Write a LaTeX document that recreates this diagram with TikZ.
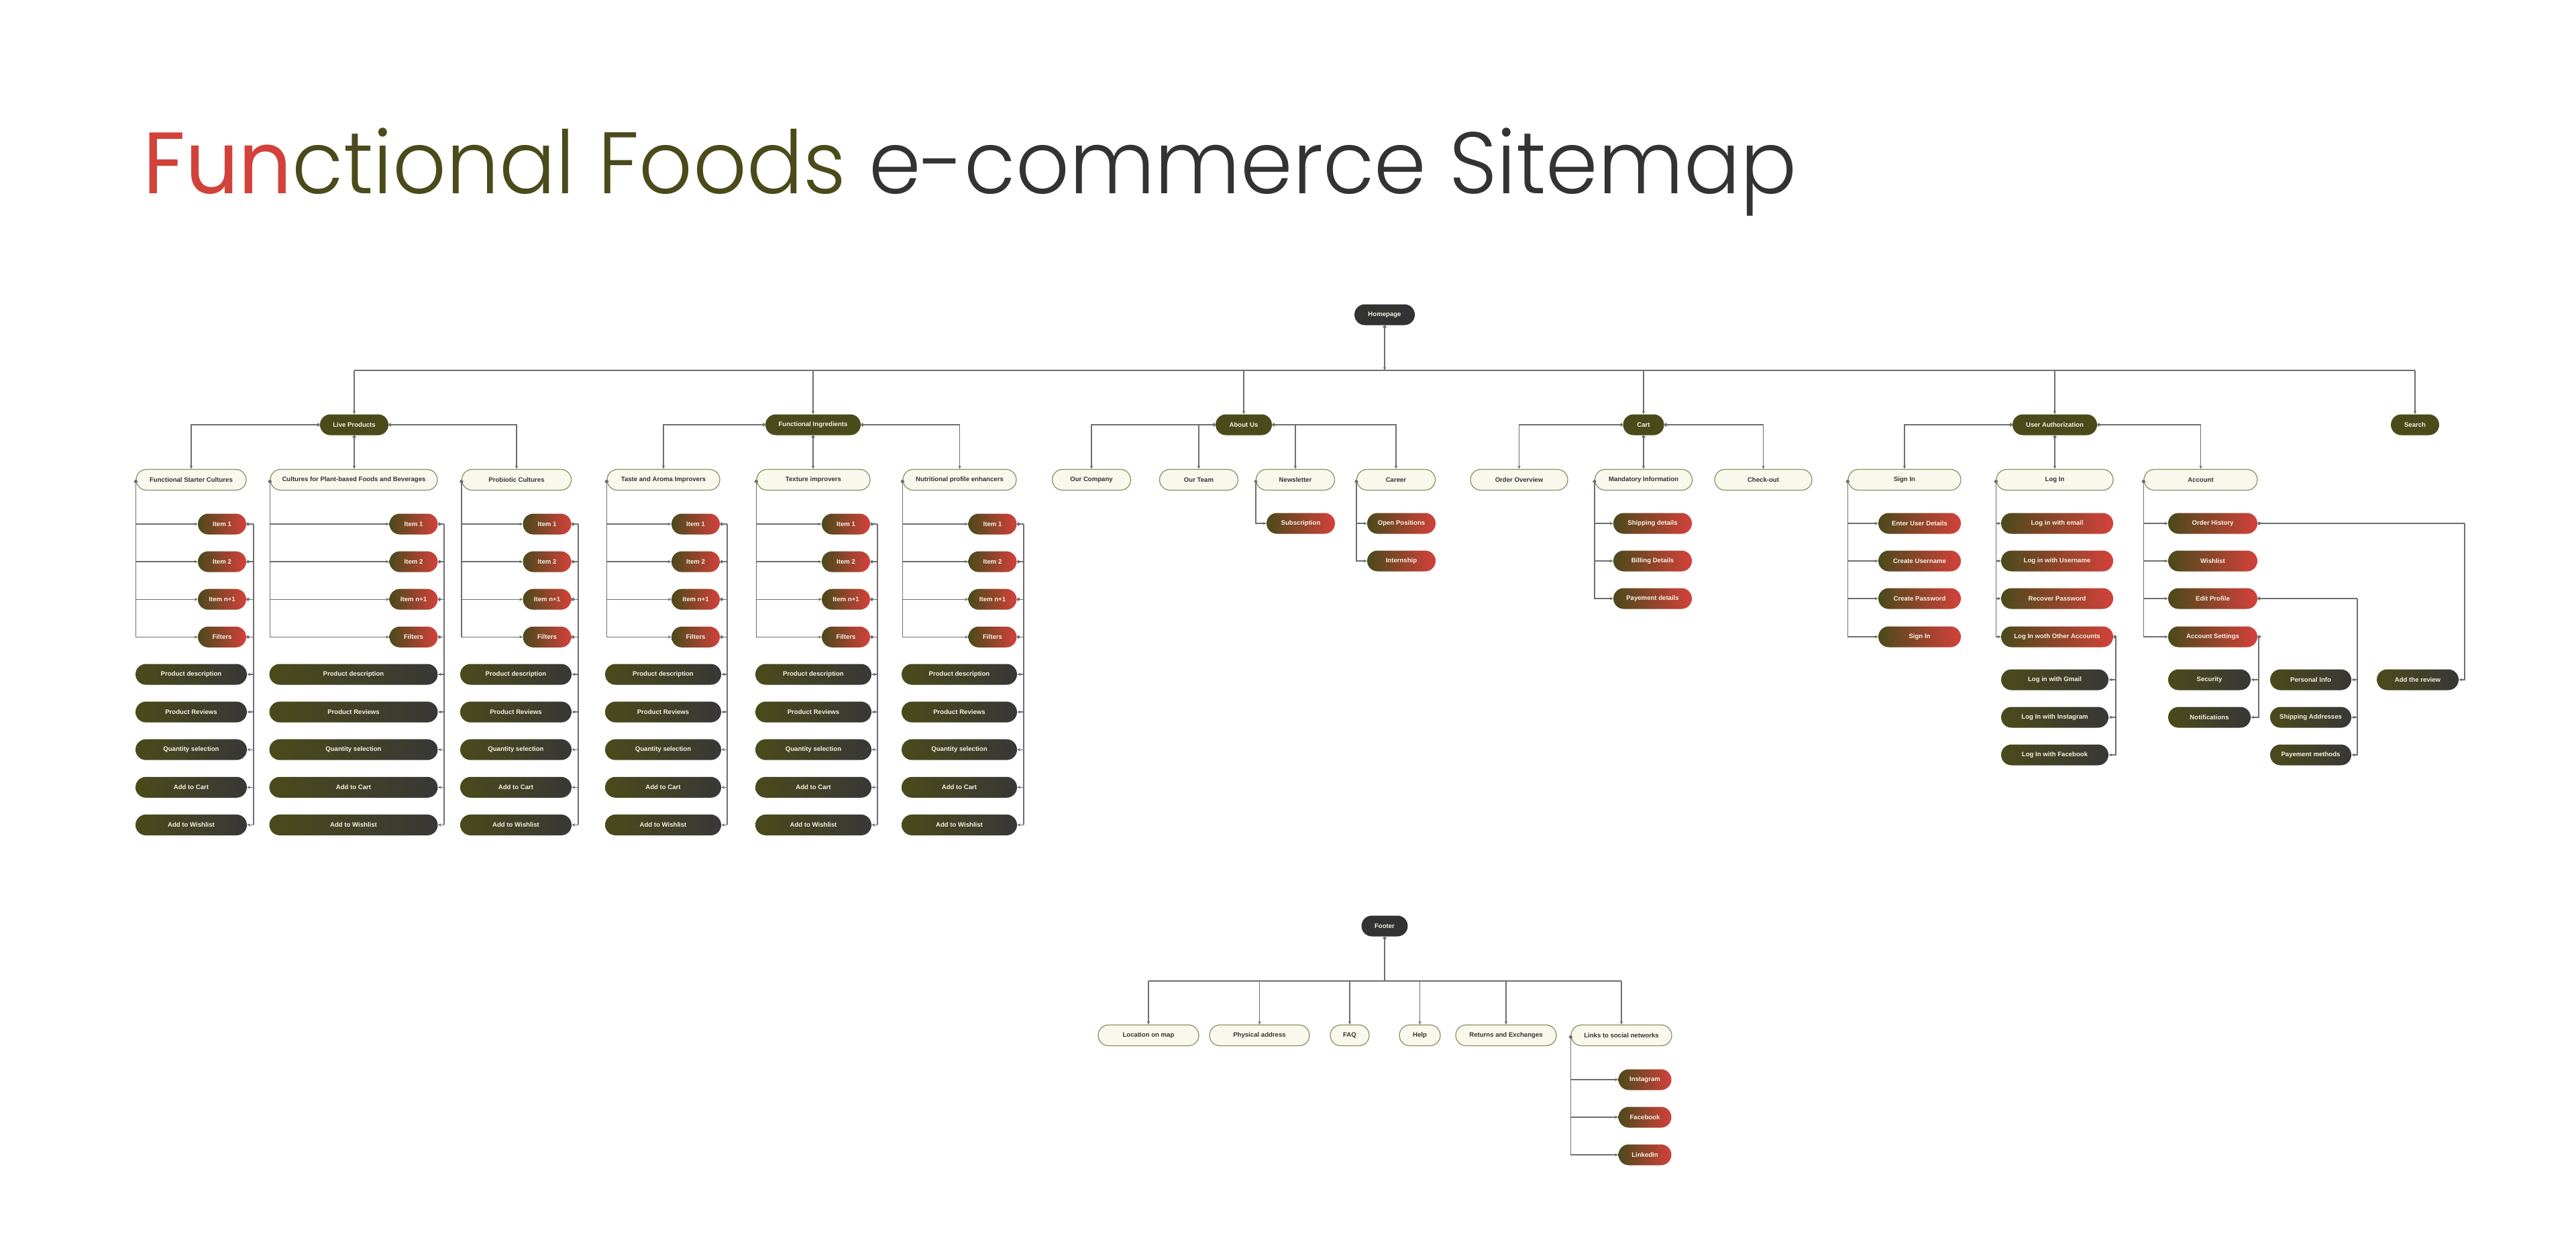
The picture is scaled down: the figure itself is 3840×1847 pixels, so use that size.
\documentclass[tikz,border=0pt]{standalone}
\usepackage{fontspec}
\setmainfont{Liberation Sans}
\newfontfamily\titlefont{Poppins Light}
\newfontfamily\titlefontb{Poppins}
\usetikzlibrary{arrows.meta}
\definecolor{olive}{HTML}{4B4A1B}
\definecolor{redc}{HTML}{D3413B}
\definecolor{darkg}{HTML}{383836}
\definecolor{cream}{HTML}{F8F8EC}
\definecolor{creamb}{HTML}{8E8C60}
\definecolor{ink}{HTML}{333333}
\definecolor{lnc}{HTML}{6E6E6E}
\definecolor{txtc}{HTML}{F6F3E4}
\tikzset{
  pill/.style={rounded corners=15.5pt, minimum height=31pt, inner sep=0pt, align=center,
    font=\fontsize{9.6}{10}\selectfont\bfseries},
  hdr/.style={pill, fill=cream, draw=creamb, line width=1.2pt, text=ink},
  lone/.style={pill, fill=olive, text=txtc},
  rootn/.style={pill, fill=ink, text=txtc},
  redn/.style={pill, left color=olive, right color=redc, text=txtc},
  darkn/.style={pill, left color=olive, right color=darkg, text=txtc},
  conn/.style={draw=lnc, line width=1.4pt},
  arr/.style={conn, -{Stealth[length=5pt,width=4.5pt]}},
  dotarr/.style={conn, {Circle[length=5pt]}-{Stealth[length=5pt,width=4.5pt]}},
  dotl/.style={conn, {Circle[length=5pt]}-},
}
% #1 prefix, #2 header x, #3 header width, #4 header text, #5 item x, #6 dark x, #7 dark width, #8 right trunk x
\newcommand\prodcol[8]{%
  \node[hdr, minimum width=#3pt] (#1h) at (#2,715) {#4};
  \coordinate (#1r) at (#8,0);
  \foreach \lbl [count=\idx from 0] in {Item 1,Item 2,Item n+1,Filters}{
    \node[redn, minimum width=72pt] (#1i\idx) at (#5,781+56.1*\idx) {\lbl};
    \draw[dotarr] (#1h.west) |- (#1i\idx.west);
    \draw[dotl] (#1i\idx.east) -- (#1i\idx.east -| #1r);
  }
  \foreach \lbl [count=\idx from 0] in {Product description,Product Reviews,Quantity selection,Add to Cart,Add to Wishlist}{
    \node[darkn, minimum width=#7pt] (#1d\idx) at (#6,1005+56.1*\idx) {\lbl};
    \draw[arr] (#1d\idx.east -| #1r) -- (#1d\idx.east);
  }
  \draw[conn] (#1i0.east -| #1r) -- (#1d4.east -| #1r);
}
\begin{document}
\begin{tikzpicture}[x=1pt,y=-1pt]
\useasboundingbox[fill=white] (0,0) rectangle (3840,1847);
% title
\node[anchor=base west, inner sep=0pt, font=\titlefont\fontsize{130}{130}\selectfont] (title) at (213,288)
  {\scalebox{0.96}[1]{{\titlefontb\textcolor{redc}{Fun}}\textcolor{olive}{ctional Foods} \textcolor{ink}{e-commerce Sitemap}}};
% root
\node[rootn, minimum width=90pt] (home) at (2064,469) {Homepage};
\coordinate (hub) at (2064,552);
% level 1
\node[lone, minimum width=102pt] (lp) at (528,633) {Live Products};
\node[lone, minimum width=142pt] (fi) at (1212,633) {Functional Ingredients};
\node[lone, minimum width=84pt] (about) at (1854,633) {About Us};
\node[lone, minimum width=61pt] (cart) at (2450,633) {Cart};
\node[lone, minimum width=126pt] (ua) at (3063,633) {User Authorization};
\node[lone, minimum width=72pt] (search) at (3600,633) {Search};
\draw[dotarr] (home.south) -- (hub);
\draw[conn] (hub -| lp.north) -- (hub -| search.north);
\foreach \n in {lp,fi,about,cart,ua,search}{
  \draw[arr] (hub -| \n.north) -- (\n.north);
}
% product columns
\prodcol{fsc}{285}{164}{Functional Starter Cultures}{331}{285}{166}{378}
\prodcol{plb}{527.5}{249}{Cultures for Plant-based Foods and Beverages}{616.5}{527}{251}{662}
\prodcol{pro}{770}{163}{Probiotic Cultures}{815.5}{769}{166}{862}
\prodcol{taa}{989}{168}{Taste and Aroma Improvers}{1037}{988.5}{173}{1084}
\prodcol{tex}{1212.5}{169}{Texture improvers}{1261}{1212.5}{173}{1308}
\prodcol{nut}{1430.5}{169}{Nutritional profile enhancers}{1479.5}{1430}{172}{1526}
\draw[dotarr] (lp.west) -| (fsch.north);
\draw[dotarr] (lp.south) -- (lp.south |- plbh.north);
\draw[dotarr] (lp.east) -| (proh.north);
\draw[dotarr] (fi.west) -| (taah.north);
\draw[dotarr] (fi.south) -- (fi.south |- texh.north);
\draw[dotarr] (fi.east) -| (nuth.north);
% About Us
\node[hdr, minimum width=117pt] (ourco) at (1627,715) {Our Company};
\node[hdr, minimum width=117pt] (ourteam) at (1787,715) {Our Team};
\node[hdr, minimum width=117pt] (news) at (1931,715) {Newsletter};
\node[hdr, minimum width=117pt] (career) at (2081,715) {Career};
\node[redn, minimum width=102pt] (subs) at (1939,780) {Subscription};
\node[redn, minimum width=102pt] (openpos) at (2089,780) {Open Positions};
\node[redn, minimum width=102pt] (intern) at (2089,836) {Internship};
\draw[dotarr] (about.west) -| (ourco.north);
\draw[arr] (ourteam.north |- about.west) -- (ourteam.north);
\draw[dotarr] (about.east) -| (career.north);
\draw[arr] (news.north |- about.east) -- (news.north);
\draw[dotarr] (news.west) |- (subs.west);
\draw[dotarr] (career.west) |- (openpos.west);
\draw[dotarr] (career.west) |- (intern.west);
% Cart
\node[hdr, minimum width=145pt] (orderov) at (2264.5,715) {Order Overview};
\node[hdr, minimum width=145pt] (mand) at (2450,715) {Mandatory Information};
\node[hdr, minimum width=145pt] (checkout) at (2628.5,715) {Check-out};
\node[redn, minimum width=117pt] (ship) at (2463.5,780) {Shipping details};
\node[redn, minimum width=117pt] (bill) at (2463.5,836) {Billing Details};
\node[redn, minimum width=117pt] (pay) at (2463.5,892) {Payement details};
\draw[dotarr] (cart.west) -| (orderov.north);
\draw[dotarr] (cart.south) -- (cart.south |- mand.north);
\draw[dotarr] (cart.east) -| (checkout.north);
\foreach \n in {ship,bill,pay}{ \draw[dotarr] (mand.west) |- (\n.west); }
% User Authorization
\node[hdr, minimum width=168pt] (signin) at (2839,715) {Sign In};
\node[hdr, minimum width=174pt] (login) at (3063,715) {Log In};
\node[hdr, minimum width=169pt] (account) at (3280.5,715) {Account};
\draw[dotarr] (ua.west) -| (signin.north);
\draw[dotarr] (ua.south) -- (ua.south |- login.north);
\draw[dotarr] (ua.east) -| (account.north);
\node[redn, minimum width=123pt] (enter) at (2861.5,780) {Enter User Details};
\node[redn, minimum width=123pt] (cuser) at (2861.5,836) {Create Username};
\node[redn, minimum width=123pt] (cpass) at (2861.5,892) {Create Password};
\node[redn, minimum width=123pt] (signbtn) at (2861.5,949) {Sign In};
\foreach \n in {enter,cuser,cpass,signbtn}{ \draw[dotarr] (signin.west) |- (\n.west); }
\node[redn, minimum width=167pt] (lemail) at (3066.5,780) {Log in with email};
\node[redn, minimum width=167pt] (luser) at (3066.5,836) {Log in with Username};
\node[redn, minimum width=167pt] (lrec) at (3066.5,892) {Recover Password};
\node[redn, minimum width=167pt] (lother) at (3066.5,949) {Log In woth Other Accounts};
\foreach \n in {lemail,luser,lrec,lother}{ \draw[dotarr] (login.west) |- (\n.west); }
\node[darkn, minimum width=160pt] (gmail) at (3063,1013) {Log in with Gmail};
\node[darkn, minimum width=160pt] (linsta) at (3063,1069) {Log In with Instagram};
\node[darkn, minimum width=160pt] (lfb) at (3063,1125) {Log In with Facebook};
\coordinate (otx) at (3154,0);
\draw[dotl] (lother.east) -- (lother.east -| otx);
\foreach \n in {gmail,linsta,lfb}{ \draw[arr] (lother.east -| otx) |- (\n.east); }
\node[redn, minimum width=133pt] (ohist) at (3298.5,780) {Order History};
\node[redn, minimum width=133pt] (wish) at (3298.5,836) {Wishlist};
\node[redn, minimum width=133pt] (edit) at (3298.5,892) {Edit Profile};
\node[redn, minimum width=133pt] (settings) at (3298.5,949) {Account Settings};
\foreach \n in {ohist,wish,edit,settings}{ \draw[dotarr] (account.west) |- (\n.west); }
\node[darkn, minimum width=123pt] (security) at (3293.5,1013) {Security};
\node[darkn, minimum width=123pt] (notif) at (3293.5,1069) {Notifications};
\coordinate (stx) at (3367,0);
\draw[dotl] (settings.east) -- (settings.east -| stx);
\foreach \n in {security,notif}{ \draw[arr] (settings.east -| stx) |- (\n.east); }
\node[darkn, minimum width=121pt] (pinfo) at (3444.5,1013) {Personal Info};
\node[darkn, minimum width=121pt] (shipad) at (3444.5,1069) {Shipping Addresses};
\node[darkn, minimum width=121pt] (paym) at (3444.5,1125) {Payement methods};
\coordinate (epx) at (3514,0);
\draw[dotl] (edit.east) -- (edit.east -| epx);
\foreach \n in {pinfo,shipad,paym}{ \draw[arr] (edit.east -| epx) |- (\n.east); }
\node[darkn, minimum width=122pt] (review) at (3604,1013) {Add the review};
\coordinate (ohx) at (3674,0);
\draw[dotl] (ohist.east) -- (ohist.east -| ohx);
\draw[arr] (ohist.east -| ohx) |- (review.east);
% Footer
\node[rootn, minimum width=69pt] (footer) at (2064,1380) {Footer};
\coordinate (fhub) at (2064,1462);
\node[hdr, minimum width=150pt] (loc) at (1712,1543) {Location on map};
\node[hdr, minimum width=149pt] (phys) at (1877.5,1543) {Physical address};
\node[hdr, minimum width=58pt] (faq) at (2012,1543) {FAQ};
\node[hdr, minimum width=61pt] (help) at (2116.5,1543) {Help};
\node[hdr, minimum width=150pt] (ret) at (2245,1543) {Returns and Exchanges};
\node[hdr, minimum width=150pt] (links) at (2417,1543) {Links to social networks};
\draw[dotl] (footer.south) -- (fhub);
\draw[conn] (fhub -| loc.north) -- (fhub -| links.north);
\foreach \n in {loc,phys,faq,help,ret,links}{ \draw[arr] (fhub -| \n.north) -- (\n.north); }
\node[redn, minimum width=79pt] (insta) at (2452,1609) {Instagram};
\node[redn, minimum width=79pt] (fb) at (2452,1665) {Facebook};
\node[redn, minimum width=79pt] (lin) at (2452,1721) {LinkedIn};
\foreach \n in {insta,fb,lin}{ \draw[dotarr] (links.west) |- (\n.west); }
\end{tikzpicture}
\end{document}
